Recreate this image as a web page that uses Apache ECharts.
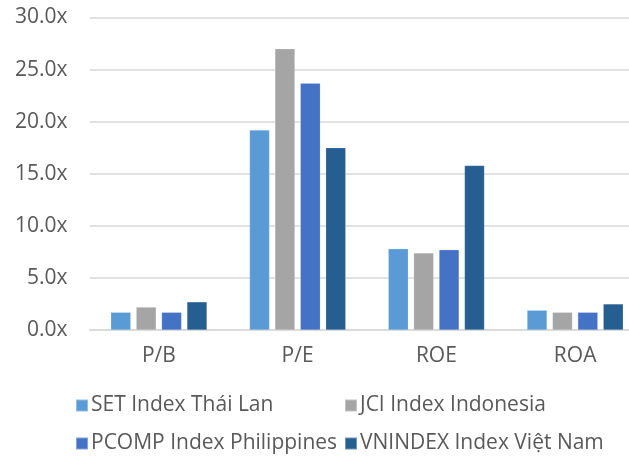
<!DOCTYPE html>
<html>
<head>
<meta charset="utf-8">
<script src="https://cdn.jsdelivr.net/npm/echarts@6/dist/echarts.min.js"></script>
<style>
html,body{margin:0;padding:0;background:#fff;}
#chart{width:629px;height:459px;}
</style>
</head>
<body>
<div id="chart"></div>
<script>
const categories = ['P/B', 'P/E', 'ROE', 'ROA'];
const seriesNames = ['SET Index Thái Lan', 'JCI Index Indonesia', 'PCOMP Index Philippines', 'VNINDEX Index Việt Nam'];
const setThai = [1.7, 19.2, 7.8, 1.9];
const jciIndo = [2.2, 27.0, 7.4, 1.7];
const pcompPhil = [1.7, 23.7, 7.7, 1.7];
const vnIndex = [2.7, 17.5, 15.8, 2.5];
const yTicks = [0, 5, 10, 15, 20, 25, 30];

const colors = ['#5B9BD5', '#A5A5A5', '#4472C4', '#255E91'];
const values = [setThai, jciIndo, pcompPhil, vnIndex];
const FONT = 'Open Sans';
const FS = 21;

const legendPos = [[75, 395], [344, 395], [75, 433], [344, 433]];

const chart = echarts.init(document.getElementById('chart'), null, {renderer: 'canvas'});
chart.setOption({
  animation: false,
  backgroundColor: '#ffffff',
  grid: {left: 89.5, top: 17.5, width: 555, height: 312.5, containLabel: false, outerBoundsMode: 'none'},
  xAxis: {
    type: 'category',
    data: categories,
    axisLine: {show: true, lineStyle: {color: '#D9D9D9', width: 1.5}},
    axisTick: {show: false},
    axisLabel: {color: '#595959', fontFamily: FONT, fontSize: FS, margin: 16}
  },
  yAxis: {
    type: 'value',
    min: yTicks[0],
    max: yTicks[yTicks.length - 1],
    interval: 5,
    axisLine: {show: false},
    axisTick: {show: false},
    splitLine: {lineStyle: {color: '#D9D9D9', width: 1.5}},
    axisLabel: {color: '#595959', fontFamily: FONT, fontSize: FS, margin: 22,
      formatter: v => v.toFixed(1) + 'x'}
  },
  legend: seriesNames.map((name, i) => ({
    data: [name],
    left: legendPos[i][0], top: legendPos[i][1], padding: 0,
    itemWidth: 12, itemHeight: 12, icon: 'rect', itemGap: 0,
    textStyle: {color: '#595959', fontFamily: FONT, fontSize: FS, lineHeight: 20, padding: [0, 0, 0, -2]}
  })),
  series: seriesNames.map((name, i) => ({
    name: name,
    type: 'bar',
    data: values[i],
    barWidth: 20,
    barGap: '27%',
    itemStyle: {color: colors[i], borderColor: 'rgba(255,255,255,0.35)', borderWidth: 0.5}
  }))
});
</script>
</body>
</html>
